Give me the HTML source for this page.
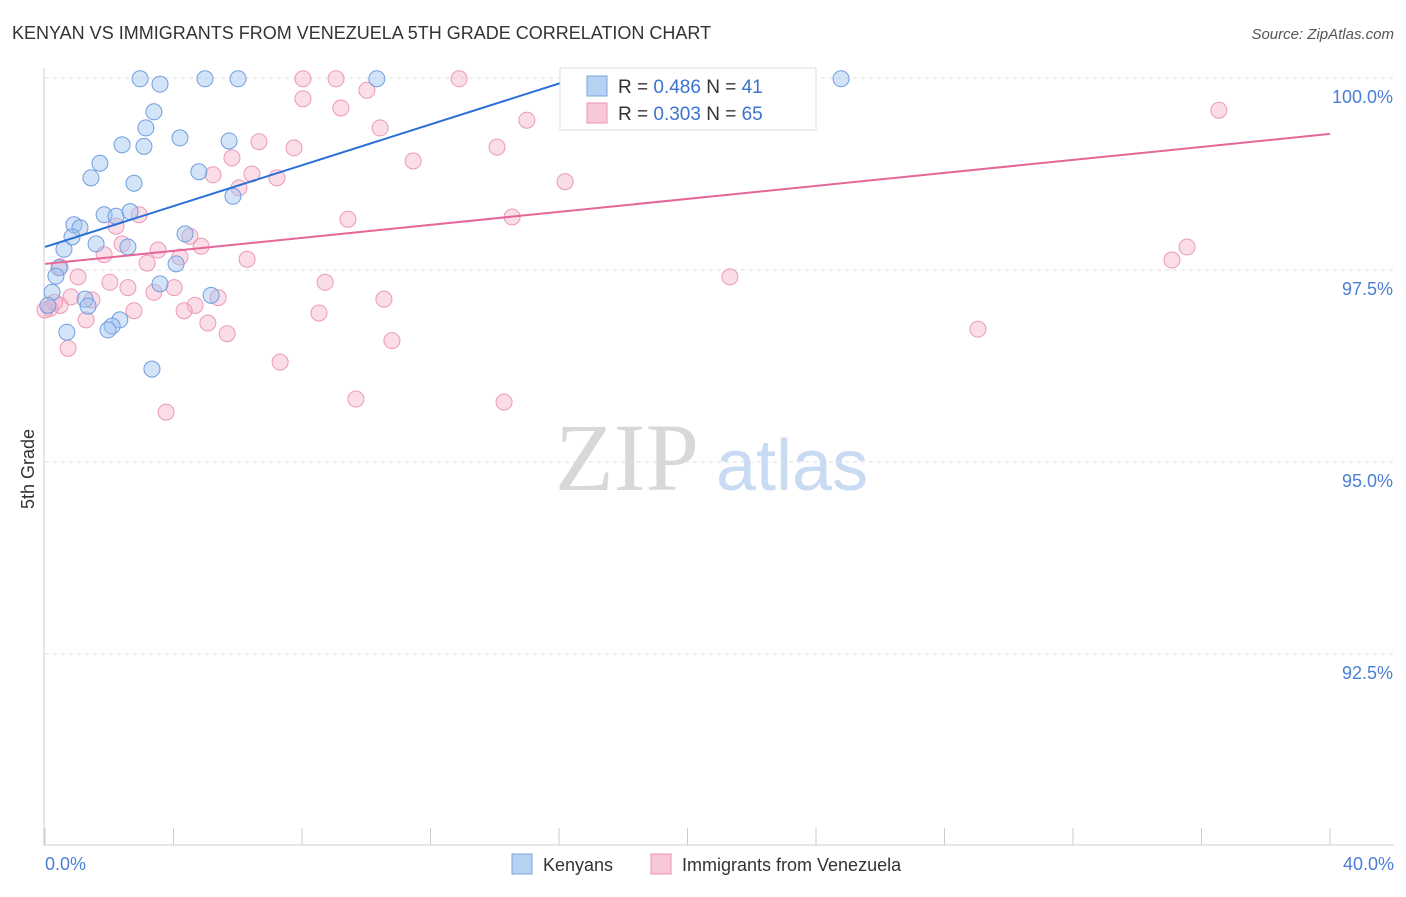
<!DOCTYPE html>
<html><head><meta charset="utf-8"><style>
body{margin:0;background:#fff;font-family:"Liberation Sans",sans-serif}
</style></head><body>
<svg id="c" width="1406" height="892" xmlns="http://www.w3.org/2000/svg">
<text x="12" y="39" font-size="18" fill="#333">KENYAN VS IMMIGRANTS FROM VENEZUELA 5TH GRADE CORRELATION CHART</text>
<text x="1394" y="39" font-size="15" fill="#555" font-style="italic" text-anchor="end">Source: ZipAtlas.com</text>
<g>
<text x="555" y="490" font-size="96" font-family="Liberation Serif,serif" fill="#d8d8d8">ZIP</text>
<text x="716" y="490" font-size="72" fill="#c9dbf2">atlas</text>
</g>
<g id="grid"></g>
<line x1="44" y1="68" x2="44" y2="845" stroke="#ccc"/>
<line x1="44" y1="845" x2="1394" y2="845" stroke="#ccc"/>
<text x="20" y="455" font-size="18" fill="#333" transform="rotate(-90 34 455)" text-anchor="middle">5th Grade</text>
<text x="45" y="870" font-size="18" fill="#4a7fd6">0.0%</text>
<text x="1394" y="870" font-size="18" fill="#4a7fd6" text-anchor="end">40.0%</text>
<g id="pts"></g>
<g id="trend"></g>
<g>
<rect x="560" y="68" width="256" height="62" fill="#fff" stroke="#ddd"/>
<rect x="587" y="76" width="20" height="20" fill="#b7d1f3" stroke="#7aa7e0"/>
<text x="618" y="93" font-size="19" fill="#333">R = <tspan fill="#3b73cf">0.486</tspan>   N =  <tspan fill="#3b73cf">41</tspan></text>
<rect x="587" y="103" width="20" height="20" fill="#f9c8d8" stroke="#e994b2"/>
<text x="618" y="120" font-size="19" fill="#333">R = <tspan fill="#3b73cf">0.303</tspan>   N =  <tspan fill="#3b73cf">65</tspan></text>
</g>
<g>
<rect x="512" y="854" width="20" height="20" fill="#b7d1f3" stroke="#7aa7e0"/>
<text x="543" y="871" font-size="18" fill="#333">Kenyans</text>
<rect x="651" y="854" width="20" height="20" fill="#f9c8d8" stroke="#e994b2"/>
<text x="682" y="871" font-size="18" fill="#333">Immigrants from Venezuela</text>
</g>
</svg>
<script>
const yTicks=[100,97.5,95,92.5];
const yTickLabels=["100.0%","97.5%","95.0%","92.5%"];
const xTicks=[0,4,8,12,16,20,24,28,32,36,40];
const blueX=[2.96,3.58,4.98,6.01,10.33,24.78,3.39,3.14,4.20,5.73,2.40,3.08,1.71,1.43,4.79,2.77,5.85,1.84,2.21,2.65,0.90,1.09,0.84,4.36,1.59,0.59,2.58,4.08,0.44,0.34,3.58,5.17,0.22,1.25,1.34,2.33,2.09,1.96,0.68,3.33,0.09];
const blueY=[99.99,99.92,99.99,99.99,99.99,99.99,99.56,99.35,99.22,99.18,99.13,99.11,98.89,98.70,98.78,98.63,98.46,98.22,98.20,98.26,98.09,98.05,97.93,97.97,97.84,97.77,97.80,97.58,97.53,97.42,97.32,97.17,97.21,97.12,97.03,96.85,96.77,96.72,96.69,96.21,97.04];
const pinkX=[8.03,9.06,12.89,21.95,8.03,10.02,9.21,36.54,15.00,10.43,6.66,7.75,14.07,5.82,11.46,5.23,6.44,7.22,16.19,6.04,2.93,9.43,14.54,2.21,4.51,2.40,4.86,3.52,1.84,4.20,6.29,3.18,35.55,35.08,0.47,1.03,21.32,2.02,8.72,2.58,4.02,3.39,0.81,1.46,5.39,10.55,4.67,0.47,0.16,4.33,2.77,8.53,1.28,5.07,5.67,29.04,10.80,0.72,7.32,9.68,14.29,3.77,0.0,0.3];
const pinkY=[99.99,99.99,99.99,99.99,99.73,99.84,99.61,99.58,99.45,99.35,99.17,99.09,99.10,98.96,98.92,98.74,98.75,98.70,98.65,98.57,98.22,98.16,98.19,98.07,97.94,97.84,97.81,97.76,97.70,97.67,97.64,97.59,97.80,97.63,97.54,97.41,97.41,97.34,97.34,97.27,97.27,97.21,97.15,97.11,97.14,97.12,97.04,97.04,97.00,96.97,96.97,96.94,96.85,96.81,96.67,96.73,96.58,96.48,96.30,95.82,95.78,95.65,96.98,97.08];
const blueTrend=[97.80,0.133];
const pinkTrend=[97.58,0.0423];
const NS="http://www.w3.org/2000/svg";
const sx=v=>45+v/40*1285, sy=v=>78+(100-v)/2.5*192;
function mk(t,a,p){const e=document.createElementNS(NS,t);for(const k in a)e.setAttribute(k,a[k]);p.appendChild(e);return e;}
const grid=document.getElementById('grid');
yTicks.forEach((t,i)=>{
 const l=mk('line',{x1:45,x2:1394,y1:sy(t),y2:sy(t),stroke:'#ddd','stroke-dasharray':'4,4'},grid);
 
 
 const tx=mk('text',{x:1393,y:sy(t)+25,'font-size':18,fill:'#4a7fd6','text-anchor':'end'},grid);
 tx.textContent=yTickLabels[i];
 
 
});
xTicks.forEach(t=>{
 const l=mk('line',{x1:sx(t),x2:sx(t),y1:828,y2:845,stroke:'#ccc'},grid);
 
 
});
const pts=document.getElementById('pts');
pinkX.forEach((x,i)=>{
 const c=mk('circle',{cx:sx(x),cy:sy(pinkY[i]),r:8,fill:'rgba(245,170,196,0.4)',stroke:'#eb9ab7','stroke-width':1},pts);
 
 
});
blueX.forEach((x,i)=>{
 const c=mk('circle',{cx:sx(x),cy:sy(blueY[i]),r:8,fill:'rgba(160,195,240,0.45)',stroke:'#6f9ee0','stroke-width':1},pts);
 
 
});
const tr=document.getElementById('trend');
const bx2=(100-blueTrend[0])/blueTrend[1];
const bl=mk('line',{x1:sx(0),y1:sy(blueTrend[0]),x2:sx(bx2),y2:sy(100),stroke:'#2a6fd6','stroke-width':2},tr);


const pl=mk('line',{x1:sx(0),y1:sy(pinkTrend[0]),x2:sx(40),y2:sy(pinkTrend[0]+40*pinkTrend[1]),stroke:'#e5679a','stroke-width':2},tr);


</script>
</body></html>
